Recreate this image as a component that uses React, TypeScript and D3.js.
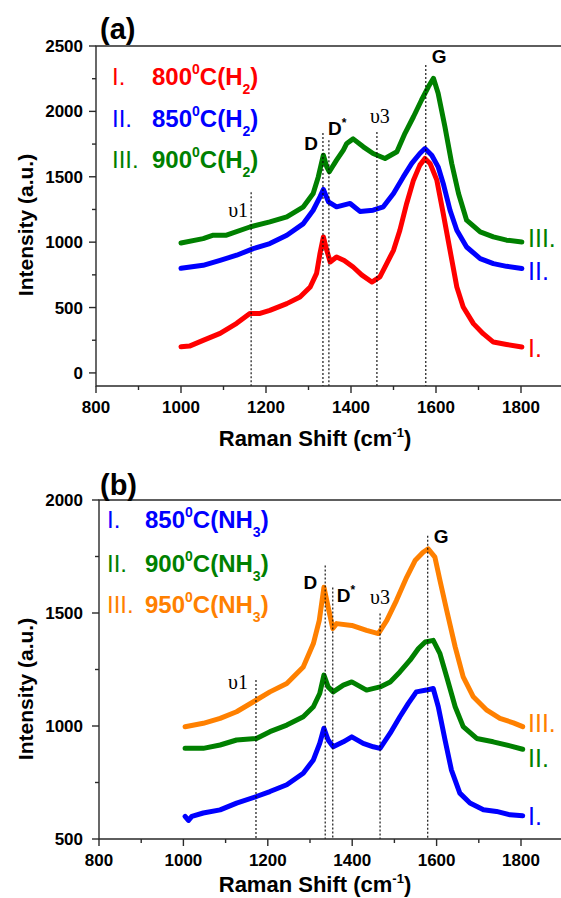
import React from 'react';
import * as d3 from 'd3';

const W = 561;
const H = 898;

// ---------- data: [Raman shift (cm-1), intensity (a.u.)] ----------
const h2_800: [number, number][] = [
  [1000, 200], [1020, 205], [1052, 249], [1092, 302], [1131, 379], [1162, 455], [1186, 455],
  [1209, 478], [1249, 530], [1280, 580], [1304, 657], [1319, 761], [1327, 913], [1335, 1040],
  [1343, 938], [1351, 848], [1366, 887], [1384, 860], [1405, 810], [1425, 750], [1449, 695],
  [1468, 734], [1484, 836], [1500, 938], [1515, 1091], [1531, 1296], [1547, 1474], [1562, 1589],
  [1574, 1640], [1586, 1602], [1602, 1474], [1617, 1219], [1633, 938], [1649, 657], [1664, 504],
  [1688, 377], [1711, 300], [1735, 236], [1766, 218], [1802, 198],
];
const h2_850: [number, number][] = [
  [1000, 800], [1052, 823], [1092, 861], [1131, 900], [1170, 951], [1209, 989], [1249, 1053],
  [1288, 1142], [1311, 1244], [1327, 1346], [1335, 1403], [1347, 1308], [1366, 1270], [1398, 1296],
  [1421, 1235], [1452, 1244], [1476, 1270], [1500, 1372], [1523, 1499], [1543, 1602], [1562, 1678],
  [1574, 1716], [1590, 1665], [1605, 1576], [1617, 1449], [1633, 1244], [1649, 1091], [1672, 963],
  [1704, 874], [1735, 836], [1766, 815], [1802, 798],
];
const h2_900: [number, number][] = [
  [1000, 994], [1052, 1027], [1076, 1053], [1107, 1053], [1162, 1116], [1209, 1155], [1249, 1193],
  [1288, 1270], [1311, 1372], [1323, 1499], [1335, 1665], [1343, 1576], [1349, 1538], [1366, 1627],
  [1382, 1704], [1390, 1755], [1405, 1790], [1429, 1729], [1452, 1678], [1480, 1640], [1508, 1691],
  [1527, 1832], [1547, 1959], [1566, 2087], [1582, 2188], [1594, 2253], [1605, 2138], [1621, 1882],
  [1637, 1602], [1653, 1372], [1672, 1168], [1704, 1078], [1735, 1040], [1766, 1015], [1802, 1002],
];
const nh3_850: [number, number][] = [
  [1004, 600], [1012, 582], [1020, 600], [1047, 615], [1087, 629], [1126, 659], [1173, 688],
  [1205, 710], [1245, 740], [1284, 791], [1308, 850], [1323, 923], [1333, 990], [1343, 938],
  [1355, 908], [1379, 930], [1399, 952], [1426, 923], [1450, 908], [1466, 901], [1490, 968],
  [1513, 1041], [1533, 1100], [1552, 1151], [1576, 1159], [1592, 1166], [1604, 1085], [1620, 938],
  [1635, 806], [1655, 703], [1679, 659], [1711, 629], [1742, 622], [1774, 607], [1804, 603],
];
const nh3_900: [number, number][] = [
  [1004, 901], [1047, 901], [1087, 916], [1126, 938], [1173, 945], [1205, 975], [1245, 1004],
  [1284, 1041], [1308, 1085], [1323, 1144], [1333, 1225], [1343, 1173], [1355, 1151], [1379, 1181],
  [1399, 1195], [1434, 1159], [1466, 1173], [1490, 1195], [1513, 1239], [1537, 1291], [1557, 1343],
  [1573, 1372], [1592, 1379], [1608, 1320], [1624, 1217], [1644, 1085], [1663, 997], [1695, 945],
  [1734, 930], [1774, 912], [1804, 897],
];
const nh3_950: [number, number][] = [
  [1004, 997], [1047, 1012], [1087, 1034], [1126, 1063], [1173, 1115], [1205, 1151], [1245, 1188],
  [1284, 1261], [1308, 1365], [1322, 1467], [1333, 1614], [1343, 1526], [1354, 1431], [1363, 1453],
  [1399, 1445], [1434, 1423], [1462, 1409], [1482, 1467], [1505, 1556], [1529, 1658], [1549, 1732],
  [1568, 1769], [1580, 1784], [1596, 1747], [1608, 1644], [1624, 1511], [1644, 1350], [1663, 1217],
  [1687, 1129], [1719, 1070], [1750, 1034], [1782, 1014], [1804, 997],
];

const xTicks = [800, 1000, 1200, 1400, 1600, 1800];
const xMinor = [900, 1100, 1300, 1500, 1700];
const yTicksA = [0, 500, 1000, 1500, 2000, 2500];
const yMinorA = [250, 750, 1250, 1750, 2250];
const yTicksB = [500, 1000, 1500, 2000];
const yMinorB = [750, 1250, 1750];

const numerals = ['I.', 'II.', 'III.'];
const tempsA = ['800', '850', '900'];
const tempsB = ['850', '900', '950'];

// peak markers: name, position (cm-1), top of dotted line (intensity)
const peaksA = [
  { name: 'υ1', x: 1165, top: 1382 },
  { name: 'D', x: 1334, top: 1834 },
  { name: 'D*', x: 1348, top: 1780 },
  { name: 'υ3', x: 1461, top: 1842 },
  { name: 'G', x: 1576, top: 2355 },
];
const peaksB = [
  { name: 'υ1', x: 1172, top: 1203 },
  { name: 'D', x: 1336, top: 1710 },
  { name: 'D*', x: 1354, top: 1613 },
  { name: 'υ3', x: 1466, top: 1498 },
  { name: 'G', x: 1579, top: 1842 },
];

// ---------- styles / layout ----------
const RED = '#ff0000';
const BLUE = '#0000ff';
const GREEN = '#008000';
const ORANGE = '#ff8000';
const SANS = "'Liberation Sans', Arial, sans-serif";
const SERIF = "'Liberation Serif', 'Times New Roman', serif";

type LabelPos = { anchor: 'start' | 'middle' | 'end'; dx: number; dy: number };
const peakLabelA: Record<string, LabelPos> = {
  'υ1': { anchor: 'end', dx: -3, dy: 25 },
  D: { anchor: 'end', dx: -5, dy: 17 },
  'D*': { anchor: 'start', dx: -1, dy: -5 },
  'υ3': { anchor: 'middle', dx: 3, dy: -9 },
  G: { anchor: 'start', dx: 6, dy: -2 },
};
const peakLabelB: Record<string, LabelPos> = {
  'υ1': { anchor: 'end', dx: -8, dy: 9 },
  D: { anchor: 'end', dx: -8, dy: 23 },
  'D*': { anchor: 'start', dx: 4, dy: 15 },
  'υ3': { anchor: 'middle', dx: 0, dy: -9 },
  G: { anchor: 'start', dx: 6, dy: 7 },
};

type PanelProps = {
  left: number;
  pxPerUnit: number;
  top: number;
  bottom: number;
  yDomain: [number, number];
  yTicks: number[];
  yMinor: number[];
  series: { data: [number, number][]; color: string }[];
  peaks: { name: string; x: number; top: number }[];
  peakLabel: Record<string, LabelPos>;
  tag: string;
  tagBaseline: number;
  legendX: [number, number];
  legendBaselines: number[];
  temps: string[];
  gas: string;
  sub: string;
  legendColors: string[];
  endLabelBaselines: number[];
  yTitleCenter: number;
  xTitleBaseline: number;
};

function Panel(p: PanelProps) {
  const x = d3.scaleLinear().domain([800, 1900]).range([p.left, p.left + 1100 * p.pxPerUnit]);
  const y = d3.scaleLinear().domain(p.yDomain).range([p.bottom, p.top]);
  const line = d3
    .line<[number, number]>()
    .x((d) => x(d[0]))
    .y((d) => y(d[1]))
    .curve(d3.curveLinear);
  const right = x(1900);
  const axisColor = '#2a2a2a';
  return (
    <g>
      {/* series */}
      {p.series.map((s, i) => (
        <path
          key={i}
          d={line(s.data) || ''}
          fill="none"
          stroke={s.color}
          strokeWidth={5}
          strokeLinejoin="round"
          strokeLinecap="round"
        />
      ))}
      {/* peak lines */}
      {p.peaks.map((pk) => {
        const lx = x(pk.x);
        const ly = y(pk.top);
        const lp = p.peakLabel[pk.name];
        const isGreek = pk.name.startsWith('υ');
        return (
          <g key={pk.name}>
            <line x1={lx} x2={lx} y1={ly} y2={p.bottom} stroke="#000" strokeWidth={1.1} strokeDasharray="2 2" />
            {isGreek ? (
              <text x={lx + lp.dx} y={ly + lp.dy} textAnchor={lp.anchor} fontFamily={SERIF} fontSize={20} fill="#000">
                {pk.name}
              </text>
            ) : pk.name === 'D*' ? (
              <text x={lx + lp.dx} y={ly + lp.dy} textAnchor={lp.anchor} fontFamily={SANS} fontWeight="bold" fontSize={19} fill="#000">
                D
                <tspan fontSize={12} dy={-8}>
                  *
                </tspan>
              </text>
            ) : (
              <text x={lx + lp.dx} y={ly + lp.dy} textAnchor={lp.anchor} fontFamily={SANS} fontWeight="bold" fontSize={19} fill="#000">
                {pk.name}
              </text>
            )}
          </g>
        );
      })}
      {/* frame */}
      <path
        d={`M${right},${p.top}H${p.left}V${p.bottom}H${right}V${p.top}`}
        fill="none"
        stroke={axisColor}
        strokeWidth={1.4}
      />
      {/* x ticks */}
      {xTicks.map((t) => (
        <g key={'xt' + t}>
          <line x1={x(t)} x2={x(t)} y1={p.bottom} y2={p.bottom + 7} stroke={axisColor} strokeWidth={1.4} />
          <text x={x(t)} y={p.bottom + 27} textAnchor="middle" fontFamily={SANS} fontWeight="bold" fontSize={17} fill="#000">
            {t}
          </text>
        </g>
      ))}
      {xMinor.map((t) => (
        <line key={'xm' + t} x1={x(t)} x2={x(t)} y1={p.bottom} y2={p.bottom + 4} stroke={axisColor} strokeWidth={1.4} />
      ))}
      {/* y ticks */}
      {p.yTicks.map((t) => (
        <g key={'yt' + t}>
          <line x1={p.left - 7} x2={p.left} y1={y(t)} y2={y(t)} stroke={axisColor} strokeWidth={1.4} />
          <text x={83} y={y(t) + 6} textAnchor="end" fontFamily={SANS} fontWeight="bold" fontSize={17} fill="#000">
            {t}
          </text>
        </g>
      ))}
      {p.yMinor.map((t) => (
        <line key={'ym' + t} x1={p.left - 4} x2={p.left} y1={y(t)} y2={y(t)} stroke={axisColor} strokeWidth={1.4} />
      ))}
      {/* axis titles */}
      <text x={315} y={p.xTitleBaseline} textAnchor="middle" fontFamily={SANS} fontWeight="bold" fontSize={22} fill="#000">
        Raman Shift (cm
        <tspan fontSize={13} dy={-9}>
          -1
        </tspan>
        <tspan dy={9}>)</tspan>
      </text>
      <text
        transform={`translate(33,${p.yTitleCenter}) rotate(-90)`}
        textAnchor="middle"
        fontFamily={SANS}
        fontWeight="bold"
        fontSize={21}
        fill="#000"
      >
        Intensity (a.u.)
      </text>
      {/* panel tag */}
      <text x={100} y={p.tagBaseline} fontFamily={SANS} fontWeight="bold" fontSize={29} fill="#000">
        {p.tag}
      </text>
      {/* legend */}
      {p.temps.map((tmp, i) => (
        <g key={'lg' + i}>
          <text x={p.legendX[0]} y={p.legendBaselines[i]} fontFamily={SANS} fontSize={24} fill={p.legendColors[i]}>
            {numerals[i]}
          </text>
          <text x={p.legendX[1]} y={p.legendBaselines[i]} fontFamily={SANS} fontWeight="bold" fontSize={24} fill={p.legendColors[i]}>
            {tmp}
            <tspan fontSize={14} dy={-11}>
              0
            </tspan>
            <tspan dy={11}>C(</tspan>
            <tspan>{p.gas}</tspan>
            <tspan fontSize={14} dy={9}>
              {p.sub}
            </tspan>
            <tspan dy={-9}>)</tspan>
          </text>
        </g>
      ))}
      {/* end labels */}
      {p.series.map((s, i) => (
        <text key={'el' + i} x={528} y={p.endLabelBaselines[i]} fontFamily={SANS} fontSize={25} fill={s.color}>
          {numerals[i]}
        </text>
      ))}
    </g>
  );
}

export default function App() {
  return (
    <svg
      width={W}
      height={H}
      viewBox={`0 0 ${W} ${H}`}
      style={{ position: 'absolute', left: 0, top: 0, background: '#fff' }}
    >
      <rect width={W} height={H} fill="#fff" />
      <Panel
        left={96}
        pxPerUnit={0.425}
        top={46}
        bottom={386}
        yDomain={[-100, 2500]}
        yTicks={yTicksA}
        yMinor={yMinorA}
        series={[
          { data: h2_800, color: RED },
          { data: h2_850, color: BLUE },
          { data: h2_900, color: GREEN },
        ]}
        peaks={peaksA}
        peakLabel={peakLabelA}
        tag="(a)"
        tagBaseline={39}
        legendX={[112, 152]}
        legendBaselines={[85, 127, 168]}
        temps={tempsA}
        gas="H"
        sub="2"
        legendColors={[RED, BLUE, GREEN]}
        endLabelBaselines={[357, 280, 247]}
        yTitleCenter={225}
        xTitleBaseline={446}
      />
      <Panel
        left={99}
        pxPerUnit={0.422}
        top={500}
        bottom={839}
        yDomain={[500, 2000]}
        yTicks={yTicksB}
        yMinor={yMinorB}
        series={[
          { data: nh3_850, color: BLUE },
          { data: nh3_900, color: GREEN },
          { data: nh3_950, color: ORANGE },
        ]}
        peaks={peaksB}
        peakLabel={peakLabelB}
        tag="(b)"
        tagBaseline={495}
        legendX={[107, 145]}
        legendBaselines={[528, 572, 613]}
        temps={tempsB}
        gas="NH"
        sub="3"
        legendColors={[BLUE, GREEN, ORANGE]}
        endLabelBaselines={[825, 767, 732]}
        yTitleCenter={689}
        xTitleBaseline={892}
      />
    </svg>
  );
}
